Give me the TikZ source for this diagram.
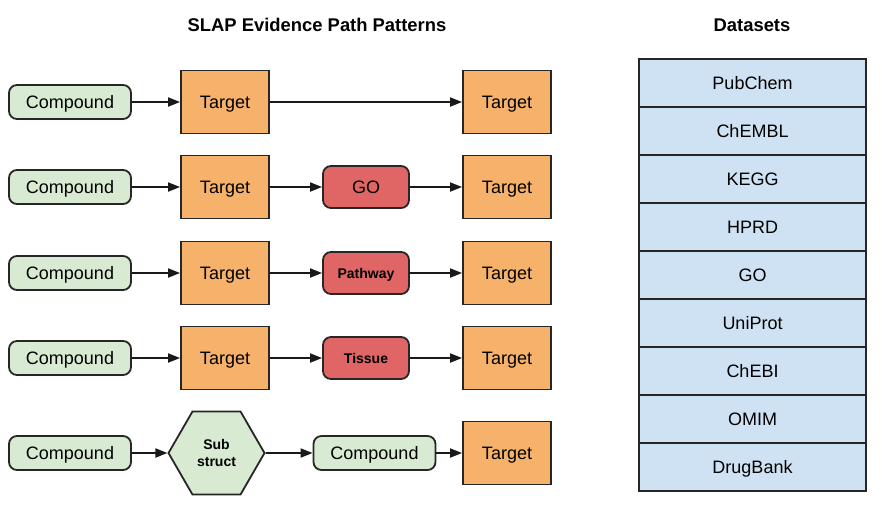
\documentclass[tikz,border=0pt]{standalone}
\usepackage{fontspec}
\setmainfont{Liberation Sans}
\usetikzlibrary{shapes.geometric,arrows.meta}
\definecolor{cmpdgreen}{HTML}{D9EAD3}
\definecolor{targorange}{HTML}{F6B26B}
\definecolor{linkred}{HTML}{E06666}
\definecolor{dsblue}{HTML}{CFE2F3}

\begin{document}
\begin{tikzpicture}[x=0.5pt, y=-0.5pt, font=\fontsize{9}{11}\selectfont,
    compound/.style={draw=black!85, line width=0.9pt, rounded corners=4pt, fill=cmpdgreen, minimum width=61pt, minimum height=17pt, inner sep=0pt, text depth=0pt},
    target/.style={draw=black!85, line width=0.9pt, fill=targorange, minimum width=44pt, minimum height=31.5pt, inner sep=0pt, text depth=0pt},
    linkbox/.style={draw=black!85, line width=0.9pt, rounded corners=4pt, fill=linkred, minimum width=43pt, minimum height=21pt, inner sep=0pt, text depth=0pt},
    small/.style={font=\fontsize{7}{8.8}\selectfont\bfseries},
    hexa/.style={draw=black!85, line width=0.9pt, fill=cmpdgreen, regular polygon, regular polygon sides=6, minimum size=48pt, inner sep=0pt, align=center},
    dset/.style={draw=black!85, line width=0.8pt, fill=dsblue, minimum width=113.5pt, minimum height=24pt, inner sep=0pt, text depth=0pt},
    arr/.style={-{Triangle[length=6pt,width=4.5pt]}, line width=0.9pt, black!90}]
    \useasboundingbox (0,0) rectangle (882,510);

    % Titles
    \node[font=\fontsize{9.2}{11}\selectfont\bfseries] (title) at (317,25) {SLAP Evidence Path Patterns};
    \node[font=\fontsize{9.2}{11}\selectfont\bfseries] (dstitle) at (752,25) {Datasets};

    % Row 1
    \node[compound] (c1) at (70,102) {Compound};
    \node[target] (t1) at (225,102) {Target};
    \node[target] (e1) at (507,102) {Target};
    \draw[arr] (c1) -- (t1);
    \draw[arr] (t1) -- (e1);

    % Rows 2-4
    \node[compound] (c2) at (70,187) {Compound};
    \node[target] (t2) at (225,187) {Target};
    \node[linkbox] (l2) at (366,187) {GO};
    \node[target] (e2) at (507,187) {Target};

    \node[compound] (c3) at (70,273) {Compound};
    \node[target] (t3) at (225,273) {Target};
    \node[linkbox, small] (l3) at (366,273) {Pathway};
    \node[target] (e3) at (507,273) {Target};

    \node[compound] (c4) at (70,358) {Compound};
    \node[target] (t4) at (225,358) {Target};
    \node[linkbox, small] (l4) at (366,358) {Tissue};
    \node[target] (e4) at (507,358) {Target};

    \foreach \r in {2,3,4} {
        \draw[arr] (c\r) -- (t\r);
        \draw[arr] (t\r) -- (l\r);
        \draw[arr] (l\r) -- (e\r);
    }

    % Row 5
    \node[compound] (c5) at (70,453) {Compound};
    \node[hexa, small] (s5) at (216.5,453) {Sub\\struct};
    \node[compound] (m5) at (374.5,453) {Compound};
    \node[target] (e5) at (507,453) {Target};
    \draw[arr] (c5) -- (s5);
    \draw[arr] (s5) -- (m5);
    \draw[arr] (m5) -- (e5);

    % Datasets
    \foreach \name [count=\i] in {PubChem,ChEMBL,KEGG,HPRD,GO,UniProt,ChEBI,OMIM,DrugBank}
        \node[dset] (ds\i) at (752.5,35+48*\i) {\name};
\end{tikzpicture}
\end{document}
